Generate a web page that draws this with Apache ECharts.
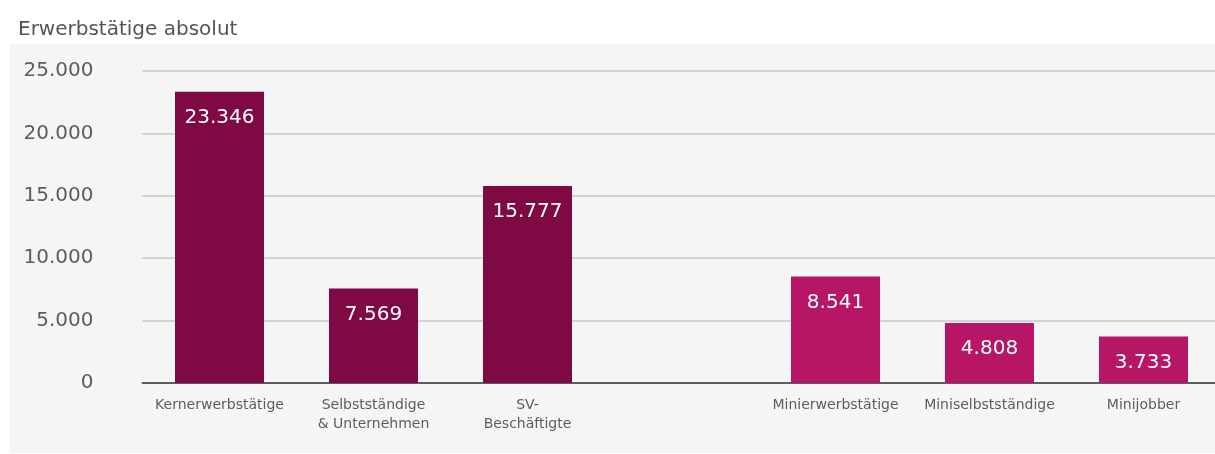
<!DOCTYPE html>
<html>
<head>
<meta charset="utf-8">
<script src="https://cdn.jsdelivr.net/npm/echarts@6/dist/echarts.min.js"></script>
<style>
  html, body { margin: 0; padding: 0; background: #ffffff; overflow: hidden; }
  #chart { width: 1222px; height: 454px; }
</style>
</head>
<body>
<div id="chart"></div>
<script>
// Employment figures (absolute); the empty slot separates the two groups
const categories = ['Kernerwerbstätige', 'Selbstständige\n& Unternehmen', 'SV-\nBeschäftigte', '', 'Minierwerbstätige', 'Miniselbstständige', 'Minijobber'];
const values = [23346, 7569, 15777, null, 8541, 4808, 3733];
const groups = ['kern', 'kern', 'kern', null, 'mini', 'mini', 'mini'];
const yTicks = [0, 5000, 10000, 15000, 20000, 25000];

const groupColors = { kern: '#7e0943', mini: '#b71566' };
const fontFamily = '"DejaVu Sans", "Open Sans", sans-serif';
const fontWeight = 'normal';

const fmt = v => v.toString().replace(/\B(?=(\d{3})+(?!\d))/g, '.');

const chart = echarts.init(document.getElementById('chart'), null, { renderer: 'canvas' });

chart.setOption({
  backgroundColor: '#ffffff',
  animation: false,
  textStyle: { fontFamily: fontFamily, fontWeight: fontWeight },
  title: {
    text: 'Erwerbstätige absolut',
    left: 13,
    top: 15,
    textStyle: { fontFamily: fontFamily, fontSize: 20, fontWeight: fontWeight, color: '#50555a' }
  },
  graphic: [{
    type: 'rect',
    z: -10,
    silent: true,
    shape: { x: 10, y: 44, width: 1212, height: 409 },
    style: { fill: '#f5f5f5' }
  }],
  grid: { left: 142.5, right: 1.5, top: 71, bottom: 71, containLabel: false },
  xAxis: {
    type: 'category',
    data: categories,
    axisTick: { show: false },
    axisLine: { show: true, lineStyle: { color: '#5a5e62', width: 2 } },
    axisLabel: {
      interval: 0,
      margin: 13,
      fontSize: 14,
      lineHeight: 19,
      color: '#5a5e62',
      fontFamily: fontFamily,
      fontWeight: fontWeight
    }
  },
  yAxis: {
    type: 'value',
    min: yTicks[0],
    max: yTicks[yTicks.length - 1],
    interval: 5000,
    axisLine: { show: false },
    axisTick: { show: false },
    splitLine: { lineStyle: { color: '#c5c8cb', width: 1.5 } },
    axisLabel: {
      margin: 49,
      fontSize: 20,
      padding: [4, 0, 0, 0],
      color: '#5a5e62',
      fontFamily: fontFamily,
      fontWeight: fontWeight,
      formatter: v => fmt(v)
    }
  },
  series: [{
    type: 'bar',
    barWidth: 89,
    data: values.map((v, i) => v === null ? null : {
      value: v,
      itemStyle: { color: groupColors[groups[i]] }
    }),
    label: {
      show: true,
      position: 'insideTop',
      distance: 16,
      fontSize: 20,
      color: '#ffffff',
      fontFamily: fontFamily,
      fontWeight: fontWeight,
      formatter: p => fmt(p.value)
    }
  }]
});
</script>
</body>
</html>
